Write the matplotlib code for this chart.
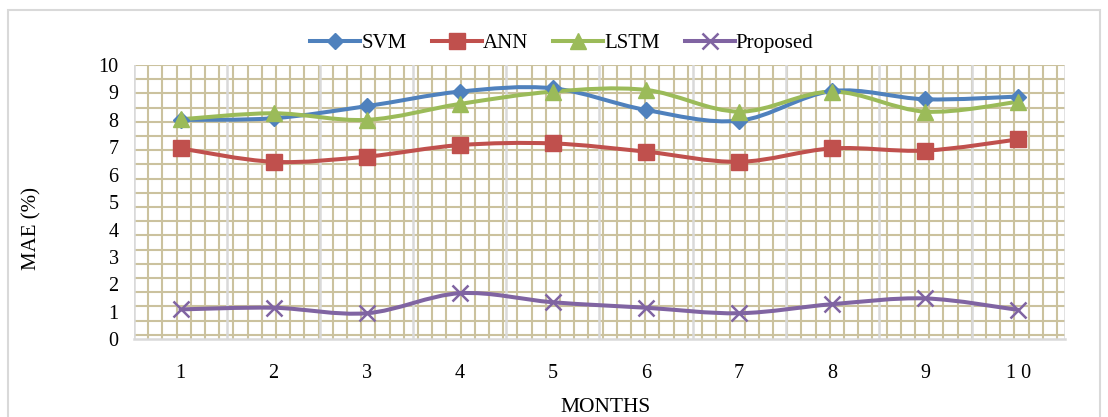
import numpy as np
import matplotlib
matplotlib.use("Agg")
import matplotlib.pyplot as plt
from matplotlib.path import Path
from matplotlib.patches import PathPatch, Rectangle
from matplotlib.lines import Line2D

months = [1, 2, 3, 4, 5, 6, 7, 8, 9, 10]
month_labels = ["1", "2", "3", "4", "5", "6", "7", "8", "9", "1 0"]
svm = [8.00, 8.06, 8.50, 9.03, 9.15, 8.36, 7.97, 9.05, 8.75, 8.85]
ann = [6.96, 6.47, 6.66, 7.08, 7.14, 6.84, 6.47, 6.96, 6.88, 7.29]
lstm = [8.02, 8.24, 8.00, 8.58, 9.03, 9.09, 8.30, 9.03, 8.30, 8.66]
proposed = [1.09, 1.15, 0.95, 1.68, 1.35, 1.15, 0.95, 1.28, 1.49, 1.07]
y_ticks = [0, 1, 2, 3, 4, 5, 6, 7, 8, 9, 10]

plt.rcParams["font.family"] = ["Liberation Serif", "DejaVu Serif"]

W, H = 1108, 417
fig = plt.figure(figsize=(W / 100, H / 100), dpi=100)

# outer chart border
fig.patches.append(Rectangle((8 / W, -0.05), (1100 - 8) / W, 1.05 - 10 / H,
                             transform=fig.transFigure, fill=False,
                             edgecolor="#D9D9D9", linewidth=1.5))

left, right, top, bottom = 134, 1065, 65, 339.3
ax = fig.add_axes([left / W, 1 - bottom / H, (right - left) / W, (bottom - top) / H])
ax.set_xlim(0.5, 10.5)
ax.set_ylim(0, 10)

# tan grid pattern fill of the plot area
tan = "#CBC29E"
step = 14.2
wpx, hpx = right - left, bottom - top
for xp in np.arange(0, wpx + 0.1, step):
    ax.plot([xp / wpx, xp / wpx], [0, 1], transform=ax.transAxes, color=tan,
            lw=1.5, zorder=0.5, solid_capstyle="butt")
for yp in np.arange(0, hpx + 0.1, step):
    ax.plot([0, 1], [1 - yp / hpx, 1 - yp / hpx], transform=ax.transAxes, color=tan,
            lw=1.5, zorder=0.5, solid_capstyle="butt")

# category boundary gridlines
for b in np.arange(0.5, 10.6, 1.0):
    ax.axvline(b, color="#D9D9D9", lw=1.8, zorder=0.6)

for s in ["top", "right", "left"]:
    ax.spines[s].set_visible(False)
ax.spines["bottom"].set_color("#D9D9D9")
ax.spines["bottom"].set_linewidth(1.8)

ax.set_xticks(months)
ax.set_xticklabels(month_labels)
ax.set_yticks(y_ticks)
ax.tick_params(axis="both", length=0, labelsize=14.5)
ax.tick_params(axis="x", pad=18)
ax.tick_params(axis="y", pad=11)


def smooth_path(xs, ys):
    pts = np.column_stack([xs, ys]).astype(float)
    n = len(pts)
    verts = [pts[0]]
    codes = [Path.MOVETO]
    for i in range(n - 1):
        p0 = pts[max(i - 1, 0)]
        p1 = pts[i]
        p2 = pts[i + 1]
        p3 = pts[min(i + 2, n - 1)]
        c1 = p1 + (p2 - p0) / 6.0
        c2 = p2 - (p3 - p1) / 6.0
        verts += [c1, c2, p2]
        codes += [Path.CURVE4] * 3
    return Path(verts, codes)


series = [
    ("SVM", svm, "#4F81BD", "D", 8.5, 1.0),
    ("ANN", ann, "#C0504D", "s", 11, 1.0),
    ("LSTM", lstm, "#9BBB59", "^", 11, 1.0),
    ("Proposed", proposed, "#8064A2", "x", 11, 1.8),
]

handles = []
for name, vals, col, mk, ms, mew in series:
    ax.add_patch(PathPatch(smooth_path(months, vals), facecolor="none",
                           edgecolor=col, lw=2.9, zorder=3, capstyle="round"))
    ax.plot(months, vals, linestyle="none", marker=mk, markersize=ms,
            color=col, markeredgecolor=col, markeredgewidth=mew, zorder=4)
    handles.append(Line2D([], [], color=col, lw=2.9, marker=mk, markersize=ms,
                          markeredgecolor=col, markeredgewidth=mew))

fig.legend(handles, [s[0] for s in series], loc="center",
           bbox_to_anchor=(562 / W, 1 - 43 / H), ncol=4, frameon=False,
           fontsize=15, handlelength=2.4, handletextpad=0.05, columnspacing=1.2,
           borderaxespad=0)

fig.text(32 / W, 1 - 229 / H, "MAE (%)", rotation=90, ha="center", va="center",
         fontsize=15)
fig.text(606 / W, 1 - 407 / H, "MONTHS", ha="center", va="center", fontsize=15.5)

fig.savefig("out.png", dpi=100)
